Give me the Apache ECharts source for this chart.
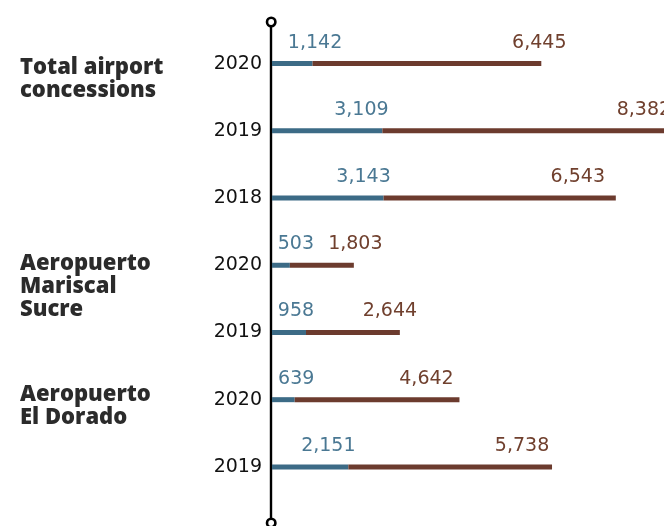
<!DOCTYPE html>
<html><head><meta charset="utf-8">
<script src="https://cdn.jsdelivr.net/npm/echarts@6/dist/echarts.min.js"></script>
<style>html,body{margin:0;padding:0;background:#fff}#c{width:664px;height:526px}</style>
</head><body><div id="c"></div>
<script>
// ---- data ----
const years = ['2020', '2019', '2018', '2020', '2019', '2020', '2019'];
const groupNames = ['Total airport\nconcessions', 'Aeropuerto\nMariscal\nSucre', 'Aeropuerto\nEl Dorado'];
const firstRowOfGroup = [0, 3, 5];
const blueValues = [1142, 3109, 3143, 503, 958, 639, 2151];
const brownValues = [6445, 8382, 6543, 1803, 2644, 4642, 5738];

// ---- label nudges (px, styling only) ----
const blueLabelDx = [2.5, -21, -20, 6, -10, 1.5, -20];
const brownLabelDx = [-2, -36, -38, 1.5, -10, -33, -30];
const groupLabelDy = [-7, -13, -16];

const BLUE = '#3c6b86', BROWN = '#6c3b2e';
const BLUE_TXT = '#4a7893', BROWN_TXT = '#70402e';
const NUM_FONT = 'DejaVu Sans';
const LABEL_DY = -9;

const rowIds = years.map((y, i) => i + '|' + y);
const fmt = v => Number(v).toLocaleString('en-US');

const chart = echarts.init(document.getElementById('c'), null, {renderer: 'canvas'});

function seriesData(values, dx) {
  return values.map((v, i) => ({value: v, label: {offset: [dx[i], LABEL_DY]}}));
}

const labelBase = {
  show: true, position: ['100%', 0], align: 'center', verticalAlign: 'bottom',
  fontFamily: NUM_FONT, fontSize: 19, formatter: p => fmt(p.value)
};

chart.setOption({
  animation: false,
  backgroundColor: '#fff',
  grid: [
    {left: 272, right: -16.2, top: 30, height: 470.5, outerBoundsMode: 'none', containLabel: false},
    {left: 271, width: 1, top: 22, bottom: 3, outerBoundsMode: 'none', containLabel: false}
  ],
  xAxis: [
    {gridIndex: 0, type: 'value', min: 0, max: 11500, show: false},
    {gridIndex: 1, type: 'value', show: false}
  ],
  yAxis: [
    {
      gridIndex: 0, type: 'category', data: rowIds, inverse: true,
      axisLine: {show: false}, axisTick: {show: false}, splitLine: {show: false},
      axisLabel: {
        formatter: v => v.split('|')[1], fontFamily: NUM_FONT, fontSize: 19,
        color: '#111', margin: 10, padding: [0, 0, 6, 0]
      }
    },
    {
      gridIndex: 1, type: 'value', min: 0, max: 1,
      axisLine: {show: true, lineStyle: {color: '#000', width: 2.4}},
      axisTick: {show: false}, axisLabel: {show: false}, splitLine: {show: false}
    }
  ],
  series: [
    {
      name: 'blue', type: 'bar', stack: 't', barWidth: 5,
      xAxisIndex: 0, yAxisIndex: 0,
      itemStyle: {color: BLUE},
      label: Object.assign({}, labelBase, {color: BLUE_TXT}),
      data: seriesData(blueValues, blueLabelDx)
    },
    {
      name: 'brown', type: 'bar', stack: 't', barWidth: 5,
      xAxisIndex: 0, yAxisIndex: 0,
      itemStyle: {color: BROWN},
      label: Object.assign({}, labelBase, {color: BROWN_TXT}),
      data: seriesData(brownValues, brownLabelDx)
    }
  ]
});

const graphics = groupNames.map((t, g) => ({
  type: 'text',
  x: 20,
  y: chart.convertToPixel({yAxisIndex: 0}, firstRowOfGroup[g]) + groupLabelDy[g],
  style: {text: t, font: '800 22px "Open Sans"', fill: '#2b2b2b', lineHeight: 23,
          align: 'left', verticalAlign: 'top'}
}));
// open circles at both ends of the vertical axis line
[0, 1].forEach(v => {
  graphics.push({
    type: 'circle', z: 100, zlevel: 1,
    shape: {cx: 271.2, cy: chart.convertToPixel({yAxisIndex: 1}, v), r: 4.2},
    style: {fill: '#fff', stroke: '#000', lineWidth: 2.6}
  });
});
chart.setOption({graphic: graphics});
</script>
</body></html>
